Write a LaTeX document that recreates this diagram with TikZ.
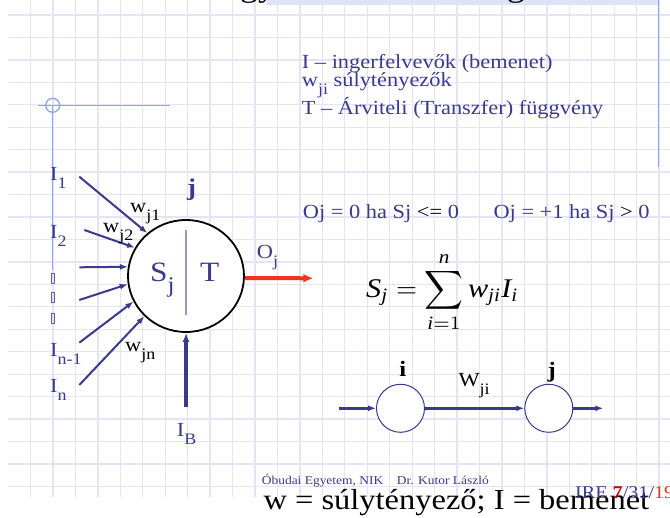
\documentclass[tikz,border=0pt]{standalone}
\usepackage{amsmath}
\usepackage{fontspec}
\setmainfont{Liberation Serif}[FakeStretch=1.12]
\usetikzlibrary{arrows.meta,positioning,shapes.geometric}

\definecolor{navy}{RGB}{58,58,140}
\definecolor{gridc}{RGB}{228,228,244}
\definecolor{pale}{RGB}{140,162,245}
\definecolor{band}{RGB}{222,226,246}
\definecolor{arrred}{RGB}{245,50,30}
\definecolor{divc}{RGB}{150,150,200}
\definecolor{darkred}{RGB}{200,0,0}
\definecolor{orng}{RGB}{225,60,20}

\newcommand{\fs}[1]{\fontsize{#1}{#1}\selectfont}
\newcommand{\dn}[1]{\raisebox{-.4em}{\scalebox{.8}{#1}}}

\begin{document}
\begin{tikzpicture}[x=1pt,y=-1pt,>={Latex[length=8pt,width=6pt]},
   gridln/.style={gridc,line width=1.3pt},
   paleln/.style={pale,line width=1.3pt},
   txt/.style={anchor=base west,inner sep=0pt,text=navy,font=\fs{20}},
   lab/.style={anchor=base west,inner sep=0pt,font=\fs{20}},
   inarr/.style={->,navy,line width=2pt},
   netarr/.style={->,navy,line width=2.5pt},
   nrnbox/.style={ellipse,draw,line width=1.8pt,fill=white,minimum width=116pt,minimum height=112pt,inner sep=0pt},
   smallc/.style={circle,draw=navy,line width=1pt,fill=white,minimum size=48pt,inner sep=0pt}]
  \fill[white] (0,0) rectangle (670,518);
  \useasboundingbox (0,0) rectangle (670,518);
  \foreach \k in {0,...,28}
    \draw[gridln] ({30.5+22.45*\k},0) -- ({30.5+22.45*\k},497);
  \foreach \k in {0,...,21}
    \draw[gridln] (8,{15+22.45*\k}) -- (670,{15+22.45*\k});

  \begin{scope}
    \clip (0,0) rectangle (670,518);
    \fill[band] (267,0) rectangle (658,5);
    \node[lab,font=\fs{32}] (tg1) at (240,-3) {gy};
    \node[lab,font=\fs{32}] (tg2) at (507,-3) {g};
  \end{scope}
  \draw[paleln] (658.7,0) -- (658.7,167);
  \draw[paleln] (38,105.3) -- (170,105.3);
  \draw[paleln] (52.7,105.3) circle[radius=7];
  \draw[paleln] (52.7,105.3) -- (52.7,270);
  \foreach \y in {273,292.3,313}
    \draw[navy!80,line width=.8pt] (51.7,\y) rectangle (54.3,{\y+10});

  \node[txt] (t1) at (301.7,68.3) {I – ingerfelvevők (bemenet)};
  \node[txt] (t2) at (301.7,86.7) {w\dn{ji} súlytényezők};
  \node[txt] (t3) at (301.7,115) {T – Árviteli (Transzfer) függvény};

  \node[nrnbox] (nrn) at (186,276) {};
  \draw[divc,line width=1.2pt] (186,230) -- (186,315);
  \node[txt,font=\fs{28}] (lS) at (150,281.7) {S\dn{j}};
  \node[txt,font=\fs{28}] (lT) at (200,282) {T};
  \node[anchor=base,inner sep=0pt,text=navy,font=\fs{24}\bfseries] (lj) at (191.7,195.6) {j};

  \coordinate (a1) at (79.3,176.7);
  \coordinate (a2) at (84.3,230);
  \coordinate (a3) at (79.3,267.3);
  \coordinate (a4) at (79.3,300);
  \coordinate (a5) at (79.3,342.7);
  \coordinate (a6) at (79.3,385);
  \draw[inarr] (a1) -- (nrn.132);
  \draw[inarr] (a2) -- (nrn.151);
  \draw[inarr] (a3) -- (nrn.171.5);
  \draw[inarr] (a4) -- (nrn.188);
  \draw[inarr] (a5) -- (nrn.206);
  \draw[inarr] (a6) -- (nrn.224);
  \coordinate (b0) at (186,406.7);
  \draw[->,navy,line width=3.5pt,>={Latex[length=9pt,width=7pt]}] (b0) -- (nrn.south);
  \coordinate (oend) at (313.3,278.3);
  \draw[->,arrred,line width=4pt,>={Latex[length=10pt,width=9pt]}] (nrn.-2) -- (oend);

  \node[txt] (lI1) at (50,180.7) {I\dn{1}};
  \node[txt] (lI2) at (50,238.3) {I\dn{2}};
  \node[txt] (lIm) at (50,356.7) {I\dn{n-1}};
  \node[txt] (lIn) at (50,393) {I\dn{n}};
  \node[txt] (lIB) at (176.7,436.7) {I\dn{B}};
  \node[lab] (lw1) at (130,212.7) {w\dn{j1}};
  \node[lab] (lw2) at (103,232.7) {w\dn{j2}};
  \node[lab] (lwn) at (125,351.7) {w\dn{jn}};
  \node[txt] (lO) at (256.7,258.3) {O\dn{j}};

  \node[txt] (c1) at (302.7,218.3) {Oj = 0 ha Sj \textcolor{black}{<=} 0};
  \node[txt] (c2) at (493.3,218.3) {Oj = +1 ha Sj \textcolor{black}{>} 0};

  \node[anchor=base west,inner sep=0pt] (frm) at (366,297.5)
    {\scalebox{2.7}{$\displaystyle \textit{S}_{\textit{j}} = \sum_{\textit{i}=1}^{\textit{n}} \textit{w}_{\textit{ji}}\textit{I}_{\textit{i}}$}};

  \node[smallc] (ni) at (400.5,408.3) {};
  \node[smallc] (nj) at (548.8,408.3) {};
  \coordinate (ns) at (339.3,408.3);
  \coordinate (ne) at (603.3,408.3);
  \draw[netarr] (ns) -- (ni);
  \draw[netarr] (ni) -- (nj);
  \draw[netarr] (nj) -- (ne);
  \node[anchor=base,inner sep=0pt,font=\fs{22}\bfseries] (li) at (402.7,376.7) {i};
  \node[anchor=base,inner sep=0pt,font=\fs{22}\bfseries] (lj2) at (551.7,377.5) {j};
  \node[lab] (lW) at (458.3,386.7) {W\dn{ji}};

  \node[txt,font=\fs{12}] (f1) at (261.7,485) {Óbudai Egyetem, NIK};
  \node[txt,font=\fs{12}] (f2) at (396.7,485) {Dr. Kutor László};
  \node[lab,font=\fs{29}] (f4) at (263.3,509.5) {w = súlytényező; I = bemenet};
  \node[txt,font=\fs{18}] (f3) at (575,498.5) {IRE \textcolor{darkred}{\bfseries 7}/31/\textcolor{orng}{19}};
\end{tikzpicture}
\end{document}
